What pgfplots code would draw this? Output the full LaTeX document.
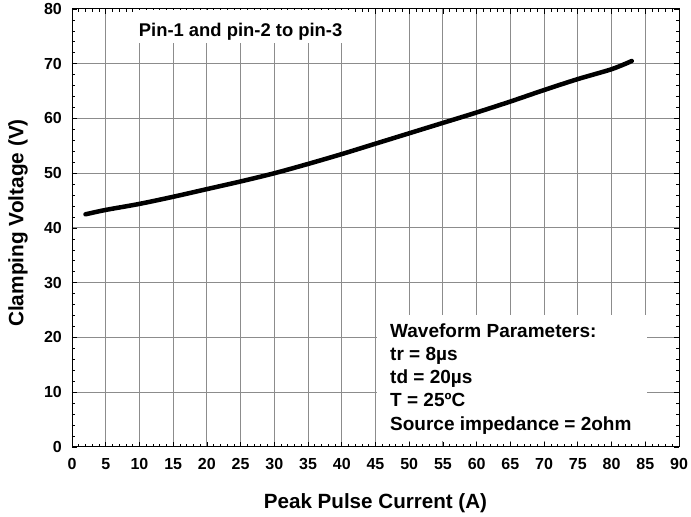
\documentclass[border=0pt]{standalone}
\usepackage{pgfplots}
\pgfplotsset{compat=1.18}
\usepackage{fontspec}
\setmainfont{Liberation Sans}
\begin{document}
\begin{tikzpicture}
\begin{axis}[
  scale only axis, width=607bp, height=438bp,
  xmin=0, xmax=90, ymin=0, ymax=80,
  xtick={0,5,...,90}, ytick={0,10,...,80},
  minor x tick num=4, minor y tick num=4,
  tick align=inside,
  major tick length=5bp, minor tick length=3bp,
  grid=major,
  major grid style={draw=black!45, line width=1pt},
  axis line style={line width=1pt},
  tick style={black, line width=0.7pt},
  /pgf/number format/assume math mode=true,
  xticklabel style={font=\bfseries\fontsize{16bp}{18bp}\selectfont, anchor=base, yshift=-23bp},
  yticklabel style={font=\bfseries\fontsize{16bp}{18bp}\selectfont, anchor=east, inner sep=0pt, xshift=-10bp},
  xlabel={Peak Pulse Current (A)},
  ylabel={Clamping Voltage (V)},
  xlabel style={font=\bfseries\fontsize{20.6bp}{23bp}\selectfont, at={(axis description cs:0.5,0)}, anchor=center, inner sep=0pt, yshift=-56bp},
  ylabel style={font=\bfseries\fontsize{20.8bp}{23bp}\selectfont, at={(axis description cs:0,0.5)}, anchor=center, inner sep=0pt, yshift=54bp, xshift=5bp},
]
\addplot[black, line width=4.5bp, line cap=round, smooth] coordinates {
 (2,42.5) (5,43.3) (10,44.4) (15,45.7) (20,47.1) (25,48.5) (30,50.0)
 (35,51.7) (40,53.5) (45,55.4) (50,57.3) (55,59.2) (60,61.1) (65,63.1)
 (70,65.2) (75,67.2) (80,69.0) (83,70.5)
};
\fill[white] (axis cs:9.3,73.8) rectangle (axis cs:41.0,79.85);
\node[font=\bfseries\fontsize{18.4bp}{22bp}\selectfont, anchor=base, inner sep=0pt] at (axis cs:25.0,75.0) {Pin-1 and pin-2 to pin-3};
\fill[white] (axis cs:45.2,1.1) rectangle (axis cs:85.3,24.1);
\node[anchor=base west, align=left, inner sep=0pt, font=\bfseries\fontsize{19bp}{23.2bp}\selectfont] at (axis cs:47.15,3.1) {Waveform Parameters:\\tr = 8µs\\td = 20µs\\T = 25ºC\\Source impedance = 2ohm};
\end{axis}
\pgfresetboundingbox
\path[use as bounding box] ([xshift=-72bp,yshift=-70bp]current axis.south west) rectangle ([xshift=12bp,yshift=9bp]current axis.north east);
\end{tikzpicture}
\end{document}
